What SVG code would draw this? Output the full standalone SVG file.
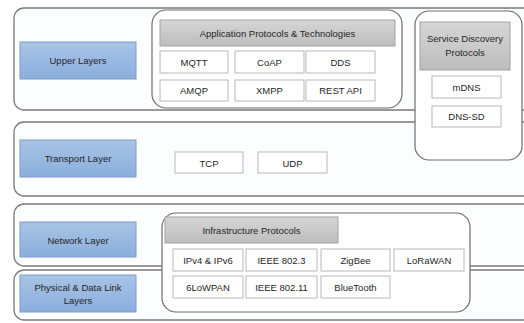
<svg xmlns="http://www.w3.org/2000/svg" width="524" height="323" viewBox="0 0 524 323">
<defs>
<linearGradient id="gBlue" x1="0" y1="0" x2="0" y2="1"><stop offset="0" stop-color="#a9c4e6"/><stop offset="1" stop-color="#8aaedc"/></linearGradient>
<linearGradient id="gGray" x1="0" y1="0" x2="0" y2="1"><stop offset="0" stop-color="#d6d6d6"/><stop offset="1" stop-color="#bdbdbd"/></linearGradient>
<style>
text{font-family:"Liberation Sans",Arial,sans-serif;font-size:9.5px;fill:#262626;text-anchor:middle;dominant-baseline:central}
.layer{fill:#fcfdfe;stroke:#7a7a7a;stroke-width:1.3}
.grp{fill:#ffffff;stroke:#6e6e6e;stroke-width:1.2}
.lbl{fill:url(#gBlue);stroke:#7d9cc6;stroke-width:1}
.hdr{fill:url(#gGray);stroke:#a3a3a3;stroke-width:1}
.item{fill:#ffffff;stroke:#b8b8b8;stroke-width:1}
</style>
</defs>
<rect width="524" height="323" fill="#ffffff"/>
<g id="layer-physical"><rect class="layer" x="14" y="270" width="520" height="50" rx="10"/>
<rect class="lbl" x="20" y="275" width="116" height="37"/><text x="78" y="287">Physical &amp; Data Link</text><text x="78" y="300">Layers</text></g>
<g id="layer-network"><rect class="layer" x="14" y="204" width="520" height="62" rx="10"/>
<rect class="lbl" x="20" y="222" width="116" height="35"/><text x="78" y="240">Network Layer</text></g>
<g id="layer-transport"><rect class="layer" x="14" y="122" width="520" height="74" rx="10"/>
<rect class="lbl" x="20" y="140" width="116" height="37"/><text x="78" y="158">Transport Layer</text>
<rect class="item" x="175" y="152" width="68" height="21"/><text x="209" y="163">TCP</text>
<rect class="item" x="258" y="152" width="69" height="21"/><text x="292.5" y="163">UDP</text></g>
<g id="layer-upper"><rect class="layer" x="14" y="8" width="520" height="102" rx="10"/>
<rect class="lbl" x="20" y="42" width="116" height="37"/><text x="78" y="60.500">Upper Layers</text></g>
<g id="app-protocols"><rect class="grp" x="152" y="10" width="250" height="98" rx="14"/>
<rect class="hdr" x="160" y="20" width="235" height="26"/><text x="277.500" y="33">Application Protocols &amp; Technologies</text>
<rect class="item" x="160" y="51" width="68" height="22"/><text x="194" y="62">MQTT</text>
<rect class="item" x="235" y="51" width="69" height="22"/><text x="269.500" y="62">CoAP</text>
<rect class="item" x="306" y="51" width="69" height="22"/><text x="340.500" y="62">DDS</text>
<rect class="item" x="160" y="80" width="68" height="21"/><text x="194" y="90.500">AMQP</text>
<rect class="item" x="235" y="80" width="69" height="21"/><text x="269.500" y="90.500">XMPP</text>
<rect class="item" x="306" y="80" width="69" height="21"/><text x="340.500" y="90.500">REST API</text></g>
<g id="service-discovery"><rect class="grp" x="415" y="11" width="107" height="149" rx="14"/>
<rect class="hdr" x="420" y="22" width="90" height="48"/><text x="465" y="38">Service Discovery</text><text x="465" y="52">Protocols</text>
<rect class="item" x="432" y="76" width="69" height="22"/><text x="466.500" y="87">mDNS</text>
<rect class="item" x="432" y="106" width="69" height="21"/><text x="466.500" y="116.500">DNS-SD</text></g>
<g id="infrastructure"><rect class="grp" x="162" y="213" width="308" height="99" rx="14"/>
<rect class="hdr" x="165" y="217" width="173" height="26"/><text x="251.500" y="230">Infrastructure Protocols</text>
<rect class="item" x="173" y="249" width="70" height="22"/><text x="208" y="260">IPv4 &amp; IPv6</text>
<rect class="item" x="246" y="249" width="71" height="22"/><text x="281.500" y="260">IEEE 802.3</text>
<rect class="item" x="321" y="249" width="69" height="22"/><text x="355.500" y="260">ZigBee</text>
<rect class="item" x="394" y="249" width="70" height="22"/><text x="429" y="260">LoRaWAN</text>
<rect class="item" x="173" y="276" width="70" height="22"/><text x="208" y="287">6LoWPAN</text>
<rect class="item" x="246" y="276" width="71" height="22"/><text x="281.500" y="287">IEEE 802.11</text>
<rect class="item" x="321" y="276" width="69" height="22"/><text x="355.500" y="287">BlueTooth</text></g>
<g id="connectors"></g>
</svg>
